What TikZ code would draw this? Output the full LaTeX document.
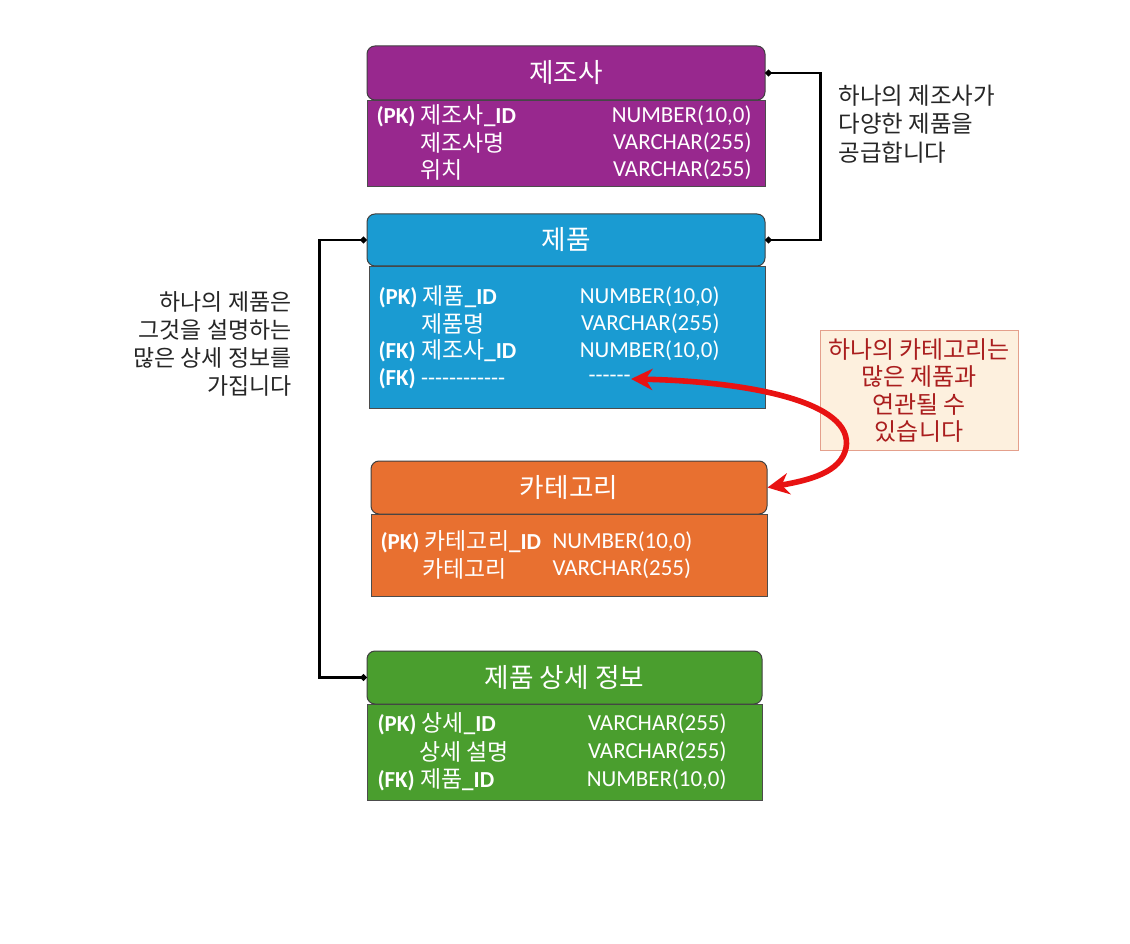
\documentclass[tikz,border=0pt]{standalone}
\usepackage{fontspec}
\setmainfont{Carlito}
\newfontfamily\kr{Noto Sans CJK KR}
\usetikzlibrary{arrows.meta,bending}

\definecolor{mfgPurple}{RGB}{152,40,142}
\definecolor{prodBlue}{RGB}{26,155,210}
\definecolor{catOrange}{RGB}{232,112,48}
\definecolor{detGreen}{RGB}{74,158,46}
\definecolor{noteFill}{RGB}{253,240,222}
\definecolor{noteEdge}{RGB}{228,160,140}
\definecolor{noteText}{RGB}{170,30,30}
\definecolor{arrowRed}{RGB}{232,18,18}

\tikzset{every picture/.style={line width=0.75pt},
  tblhead/.style={draw=black!75, rounded corners=6pt, text=white, font=\kr\fontsize{20}{24}\selectfont, inner sep=0pt},
  tblbody/.style={draw=black!70, line width=0.6pt, anchor=north west, inner sep=0pt},
  rowtxt/.style={text=white, font=\fontsize{17.2}{20}\selectfont, inner sep=0pt},
  link/.style={line width=2pt, {Circle[length=4.5pt]}-{Circle[length=4.5pt]}},
  relarrow/.style={draw=arrowRed, line width=4.2pt, {Stealth[length=16pt,width=16pt,bend]}-{Stealth[length=16pt,width=16pt,bend]}},
  notetxt/.style={font=\kr\fontsize{17.6}{21.4}\selectfont, inner sep=0pt}
}

\begin{document}
\begin{tikzpicture}[x=0.75pt,y=0.75pt,yscale=-1,xscale=1]
	\useasboundingbox[fill=white] (0,0) rectangle (1130,944);

	%Shape: Rectangle [id:mfgBody] 
	\node[tblbody, fill=mfgPurple, minimum width=298.5pt, minimum height=64.5pt] (mfgBody) at (367,100) {};
	%Shape: Rounded Rect [id:mfgHead] 
	\node[tblhead, fill=mfgPurple, minimum width=298.5pt, minimum height=40.5pt] (mfgHead) at (566,73) {제조사};
	%Shape: Rectangle [id:prodBody] 
	\node[tblbody, fill=prodBlue, minimum width=297pt, minimum height=106.5pt] (prodBody) at (369,266) {};
	%Shape: Rounded Rect [id:prodHead] 
	\node[tblhead, fill=prodBlue, minimum width=298.5pt, minimum height=39pt] (prodHead) at (566,240) {제품};
	%Shape: Rectangle [id:catBody] 
	\node[tblbody, fill=catOrange, minimum width=297pt, minimum height=61.5pt] (catBody) at (371,514) {};
	%Shape: Rounded Rect [id:catHead] 
	\node[tblhead, fill=catOrange, minimum width=297pt, minimum height=39.75pt] (catHead) at (569,487.5) {카테고리};
	%Shape: Rectangle [id:detBody] 
	\node[tblbody, fill=detGreen, minimum width=296.25pt, minimum height=72pt] (detBody) at (367,704) {};
	%Shape: Rounded Rect [id:detHead] 
	\node[tblhead, fill=detGreen, minimum width=296.25pt, minimum height=39.75pt] (detHead) at (564.5,677.5) {제품 상세 정보};

	% Text Node
	\node[rowtxt, anchor=west] (mfgR1) at (376,116) {\textbf{(PK)} {\kr 제조사}\textbf{\_ID}};
	% Text Node
	\node[rowtxt, anchor=east] (mfgR1T) at (752,116) {NUMBER(10,0)};
	% Text Node
	\node[rowtxt, anchor=west] (mfgR2) at (420,143) {\kr 제조사명};
	% Text Node
	\node[rowtxt, anchor=east] (mfgR2T) at (752,143) {VARCHAR(255)};
	% Text Node
	\node[rowtxt, anchor=west] (mfgR3) at (420,170) {\kr 위치};
	% Text Node
	\node[rowtxt, anchor=east] (mfgR3T) at (752,170) {VARCHAR(255)};

	% Text Node
	\node[rowtxt, anchor=west] (prodR1) at (378,297) {\textbf{(PK)} {\kr 제품}\textbf{\_ID}};
	% Text Node
	\node[rowtxt, anchor=east] (prodR1T) at (720,297) {NUMBER(10,0)};
	% Text Node
	\node[rowtxt, anchor=west] (prodR2) at (421,324) {\kr 제품명};
	% Text Node
	\node[rowtxt, anchor=east] (prodR2T) at (720,324) {VARCHAR(255)};
	% Text Node
	\node[rowtxt, anchor=west] (prodR3) at (378,351) {\textbf{(FK)} {\kr 제조사}\textbf{\_ID}};
	% Text Node
	\node[rowtxt, anchor=east] (prodR3T) at (720,351) {NUMBER(10,0)};
	% Text Node
	\node[rowtxt, anchor=west] (prodR4) at (378,379) {\textbf{(FK)} -{}-{}-{}-{}-{}-{}-{}-{}-{}-{}-{}-};
	% Text Node
	\node[rowtxt, anchor=west] (prodR4T) at (588,379) {-{}-{}-{}-{}-{}-};

	% Text Node
	\node[rowtxt, anchor=west] (catR1) at (380,542) {\textbf{(PK)} {\kr 카테고리}\textbf{\_ID}};
	% Text Node
	\node[rowtxt, anchor=west] (catR1T) at (552,542) {NUMBER(10,0)};
	% Text Node
	\node[rowtxt, anchor=west] (catR2) at (422,569) {\kr 카테고리};
	% Text Node
	\node[rowtxt, anchor=west] (catR2T) at (552,569) {VARCHAR(255)};

	% Text Node
	\node[rowtxt, anchor=west] (detR1) at (377,724) {\textbf{(PK)} {\kr 상세}\textbf{\_ID}};
	% Text Node
	\node[rowtxt, anchor=east] (detR1T) at (727,724) {VARCHAR(255)};
	% Text Node
	\node[rowtxt, anchor=west] (detR2) at (419,752) {\kr 상세 설명};
	% Text Node
	\node[rowtxt, anchor=east] (detR2T) at (727,752) {VARCHAR(255)};
	% Text Node
	\node[rowtxt, anchor=west] (detR3) at (377,780) {\textbf{(FK)} {\kr 제품}\textbf{\_ID}};
	% Text Node
	\node[rowtxt, anchor=east] (detR3T) at (727,780) {NUMBER(10,0)};

	%Straight Lines [id:mfgToProd] 
	\draw[link] (mfgHead.east) -- ++(55,0) |- (prodHead.east);
	%Straight Lines [id:prodToDet] 
	\draw[link] (prodHead.west) -- ++(-47,0) |- (detHead.west);

	% Text Node
	\node[notetxt, anchor=west, align=left, text=black!85] (noteMfg) at (838,124) {하나의 제조사가\\다양한 제품을\\공급합니다};
	% Text Node
	\node[notetxt, anchor=east, align=right, text=black!85, font=\kr\fontsize{17.2}{21}\selectfont] (noteProd) at (292,344) {하나의 제품은\\그것을 설명하는\\많은 상세 정보를\\가집니다};
	% Text Node
	\node[notetxt, align=center, text=noteText, fill=noteFill, draw=noteEdge, minimum width=148.5pt, minimum height=89.25pt, font=\kr\fontsize{18}{20.6}\selectfont] (noteCat) at (919,390.5) {하나의 카테고리는\\많은 제품과\\연관될 수\\있습니다};

	%Curve Lines [id:catToProd] 
	\draw[relarrow] (prodR4T.east) .. controls (740,380) and (855,400) .. (846,448) .. controls (840,476) and (800,482) .. (catHead.east);

\end{tikzpicture}
\end{document}
